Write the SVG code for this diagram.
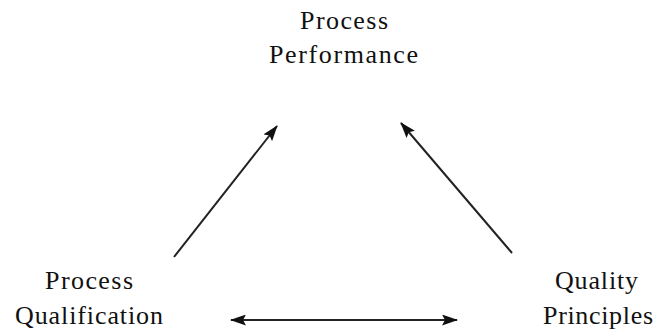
<svg xmlns="http://www.w3.org/2000/svg" width="658" height="336" viewBox="0 0 658 336">
  <style>
    .lbl { font-family: "Liberation Serif", "DejaVu Serif", serif; font-size: 26px; fill: #111; }
    .conn { stroke: #222; stroke-width: 2; fill: none; }
  </style>
  <defs>
    <marker id="head" viewBox="0 0 16 11" refX="15" refY="5.5" markerWidth="16" markerHeight="11" markerUnits="userSpaceOnUse" orient="auto-start-reverse">
      <path d="M0,0 L16,5.5 L0,11 L3,5.5 Z" fill="#111"/>
    </marker>
  </defs>
  <rect width="658" height="336" fill="#fff"/>

  <g id="process-performance">
    <text class="lbl" x="300" y="29" textLength="88" lengthAdjust="spacing">Process</text>
    <text class="lbl" x="269" y="63" textLength="149" lengthAdjust="spacing">Performance</text>
  </g>

  <g id="process-qualification">
    <text class="lbl" x="45" y="289" textLength="88" lengthAdjust="spacing">Process</text>
    <text class="lbl" x="15" y="324" textLength="148" lengthAdjust="spacing">Qualification</text>
  </g>

  <g id="quality-principles">
    <text class="lbl" x="555" y="289" textLength="83" lengthAdjust="spacing">Quality</text>
    <text class="lbl" x="543" y="324" textLength="110" lengthAdjust="spacing">Principles</text>
  </g>

  <g id="connectors">
    <line class="conn" x1="174" y1="257" x2="277" y2="126" marker-end="url(#head)"/>
    <line class="conn" x1="512" y1="253" x2="401" y2="123" marker-end="url(#head)"/>
    <line class="conn" x1="231" y1="320" x2="457" y2="320" marker-start="url(#head)" marker-end="url(#head)"/>
  </g>
</svg>
